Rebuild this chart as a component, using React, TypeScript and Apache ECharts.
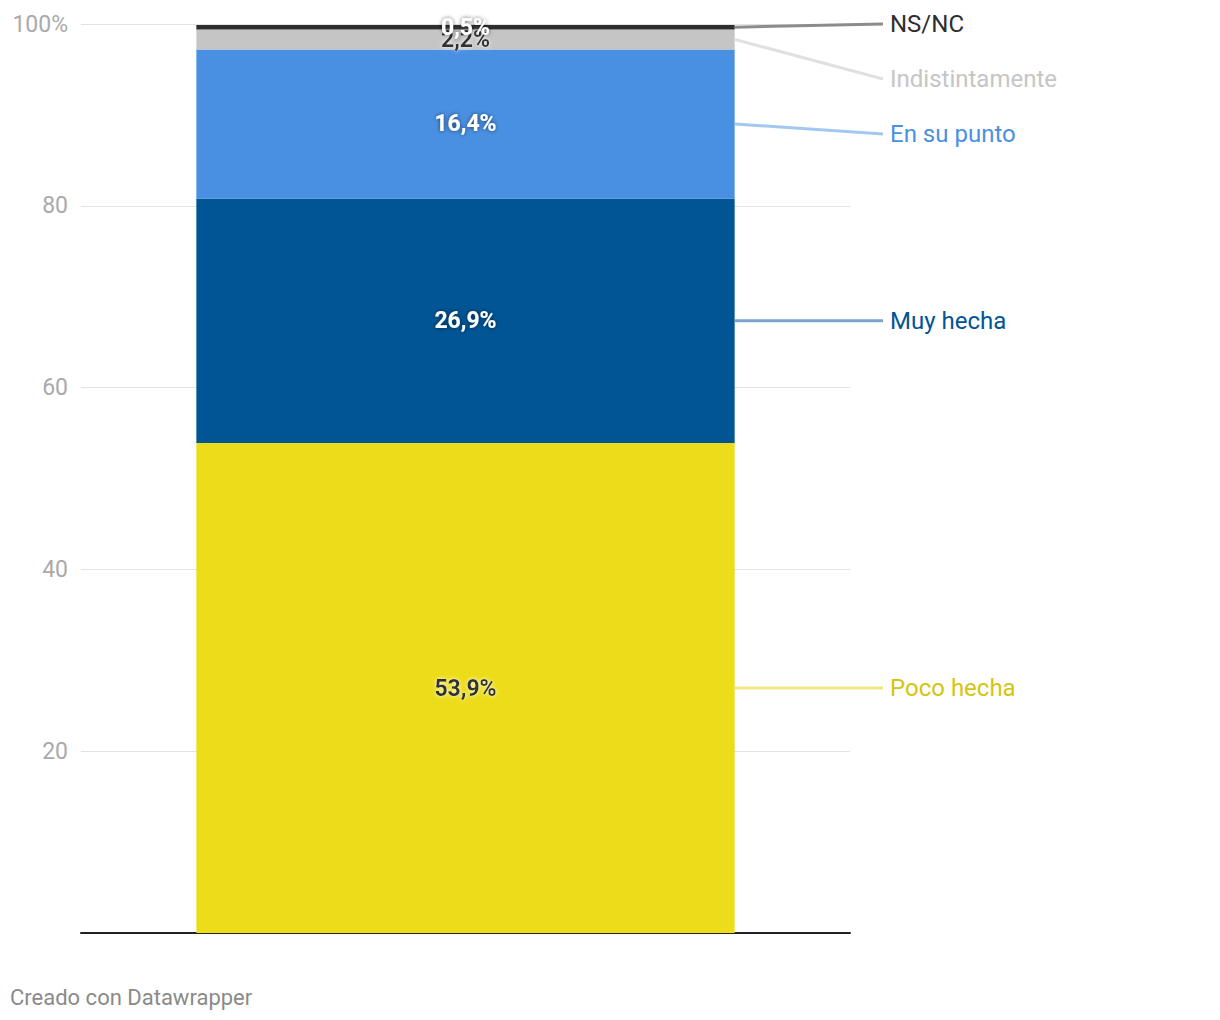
import React, { useEffect, useRef } from "react";
import * as echarts from "echarts";

const categories = ["Total"];
const seriesNames = ["Poco hecha", "Muy hecha", "En su punto", "Indistintamente", "NS/NC"];
const seriesValues = [53.9, 26.9, 16.4, 2.2, 0.5];
const seriesColors = ["#ecdc19", "#015595", "#4a90e2", "#c5c5c5", "#2e2e2e"];
const labelColors = ["#d4c50e", "#015595", "#4a90e2", "#c5c5c5", "#2e2e2e"];
const lineColors = ["#f2e67d", "#7aa4c8", "#a3c7f0", "#e0e0e0", "#8c8c8c"];
const valueTextDark = [true, false, false, true, false];
const yTicks = [0, 20, 40, 60, 80, 100];

const fmt = (v: number) => v.toFixed(1).replace(".", ",") + "%";

export default function App() {
  const ref = useRef<HTMLDivElement>(null);
  useEffect(() => {
    document.body.style.margin = "0";
    const chart = echarts.init(ref.current!, null, { renderer: "svg" });
    const font = "Roboto";
    chart.setOption({
      animation: false,
      textStyle: { fontFamily: font },
      grid: { left: 81, right: 370, top: 24, bottom: 87, containLabel: false },
      xAxis: {
        type: "category",
        data: categories,
        axisLine: { show: true, lineStyle: { color: "#222", width: 2 } },
        axisTick: { show: false },
        axisLabel: { show: false },
      },
      yAxis: {
        type: "value",
        min: yTicks[0],
        max: yTicks[yTicks.length - 1],
        interval: 20,
        axisLine: { show: false },
        axisTick: { show: false },
        splitLine: { lineStyle: { color: "#e3e3e3", width: 1 } },
        axisLabel: {
          color: "#aaaaaa",
          fontSize: 23,
          fontFamily: font,
          margin: 13,
          formatter: (v: number) => (v === 0 ? "" : v === 100 ? "100%" : String(v)),
        },
      },
      series: seriesNames.map((name, i) => ({
        name,
        type: "bar",
        stack: "total",
        barWidth: "70%",
        data: [seriesValues[i]],
        itemStyle: { color: seriesColors[i] },
        label: {
          show: true,
          position: "inside",
          formatter: () => fmt(seriesValues[i]),
          fontFamily: font,
          fontSize: 23,
          fontWeight: "bold",
          color: valueTextDark[i] ? "#333333" : "#ffffff",
          textShadowColor: valueTextDark[i] ? "rgba(255,255,255,0.95)" : "rgba(0,0,0,0.6)",
          textShadowBlur: 4,
        },
      })),
    });

    const topPx = chart.convertToPixel({ yAxisIndex: 0 }, 100) as number;
    let cum = 0;
    const mids: number[] = seriesValues.map((v) => {
      const m = cum + v / 2;
      cum += v;
      return chart.convertToPixel({ yAxisIndex: 0 }, m) as number;
    });
    const order = seriesValues.map((_, i) => i).reverse();
    const labelY: number[] = new Array(seriesValues.length).fill(0);
    let prev = -Infinity;
    order.forEach((idx, k) => {
      const y = k === 0 ? Math.min(mids[idx], topPx) : Math.max(mids[idx], prev + 55);
      labelY[idx] = y;
      prev = y;
    });
    const barEnd = (chart.convertToPixel({ xAxisIndex: 0 }, categories[0]) as number) + 269.5;
    const graphics: any[] = [];
    seriesNames.forEach((name, i) => {
      graphics.push({
        type: "line",
        shape: { x1: barEnd, y1: mids[i], x2: 883, y2: labelY[i] },
        style: { stroke: lineColors[i], lineWidth: 3 },
        z: 10,
      });
      graphics.push({
        type: "text",
        x: 890,
        y: labelY[i],
        style: {
          text: name,
          fill: labelColors[i],
          font: `24px ${font}`,
          textVerticalAlign: "middle",
          textAlign: "left",
        },
        z: 10,
      });
    });
    graphics.push({
      type: "text",
      x: 10,
      y: 997,
      style: {
        text: "Creado con Datawrapper",
        fill: "#8a8a8a",
        font: `22px ${font}`,
        textVerticalAlign: "middle",
      },
    });
    chart.setOption({ graphic: graphics });
    return () => chart.dispose();
  }, []);
  return <div ref={ref} style={{ position: "absolute", left: 0, top: 0, width: 1220, height: 1020 }} />;
}
